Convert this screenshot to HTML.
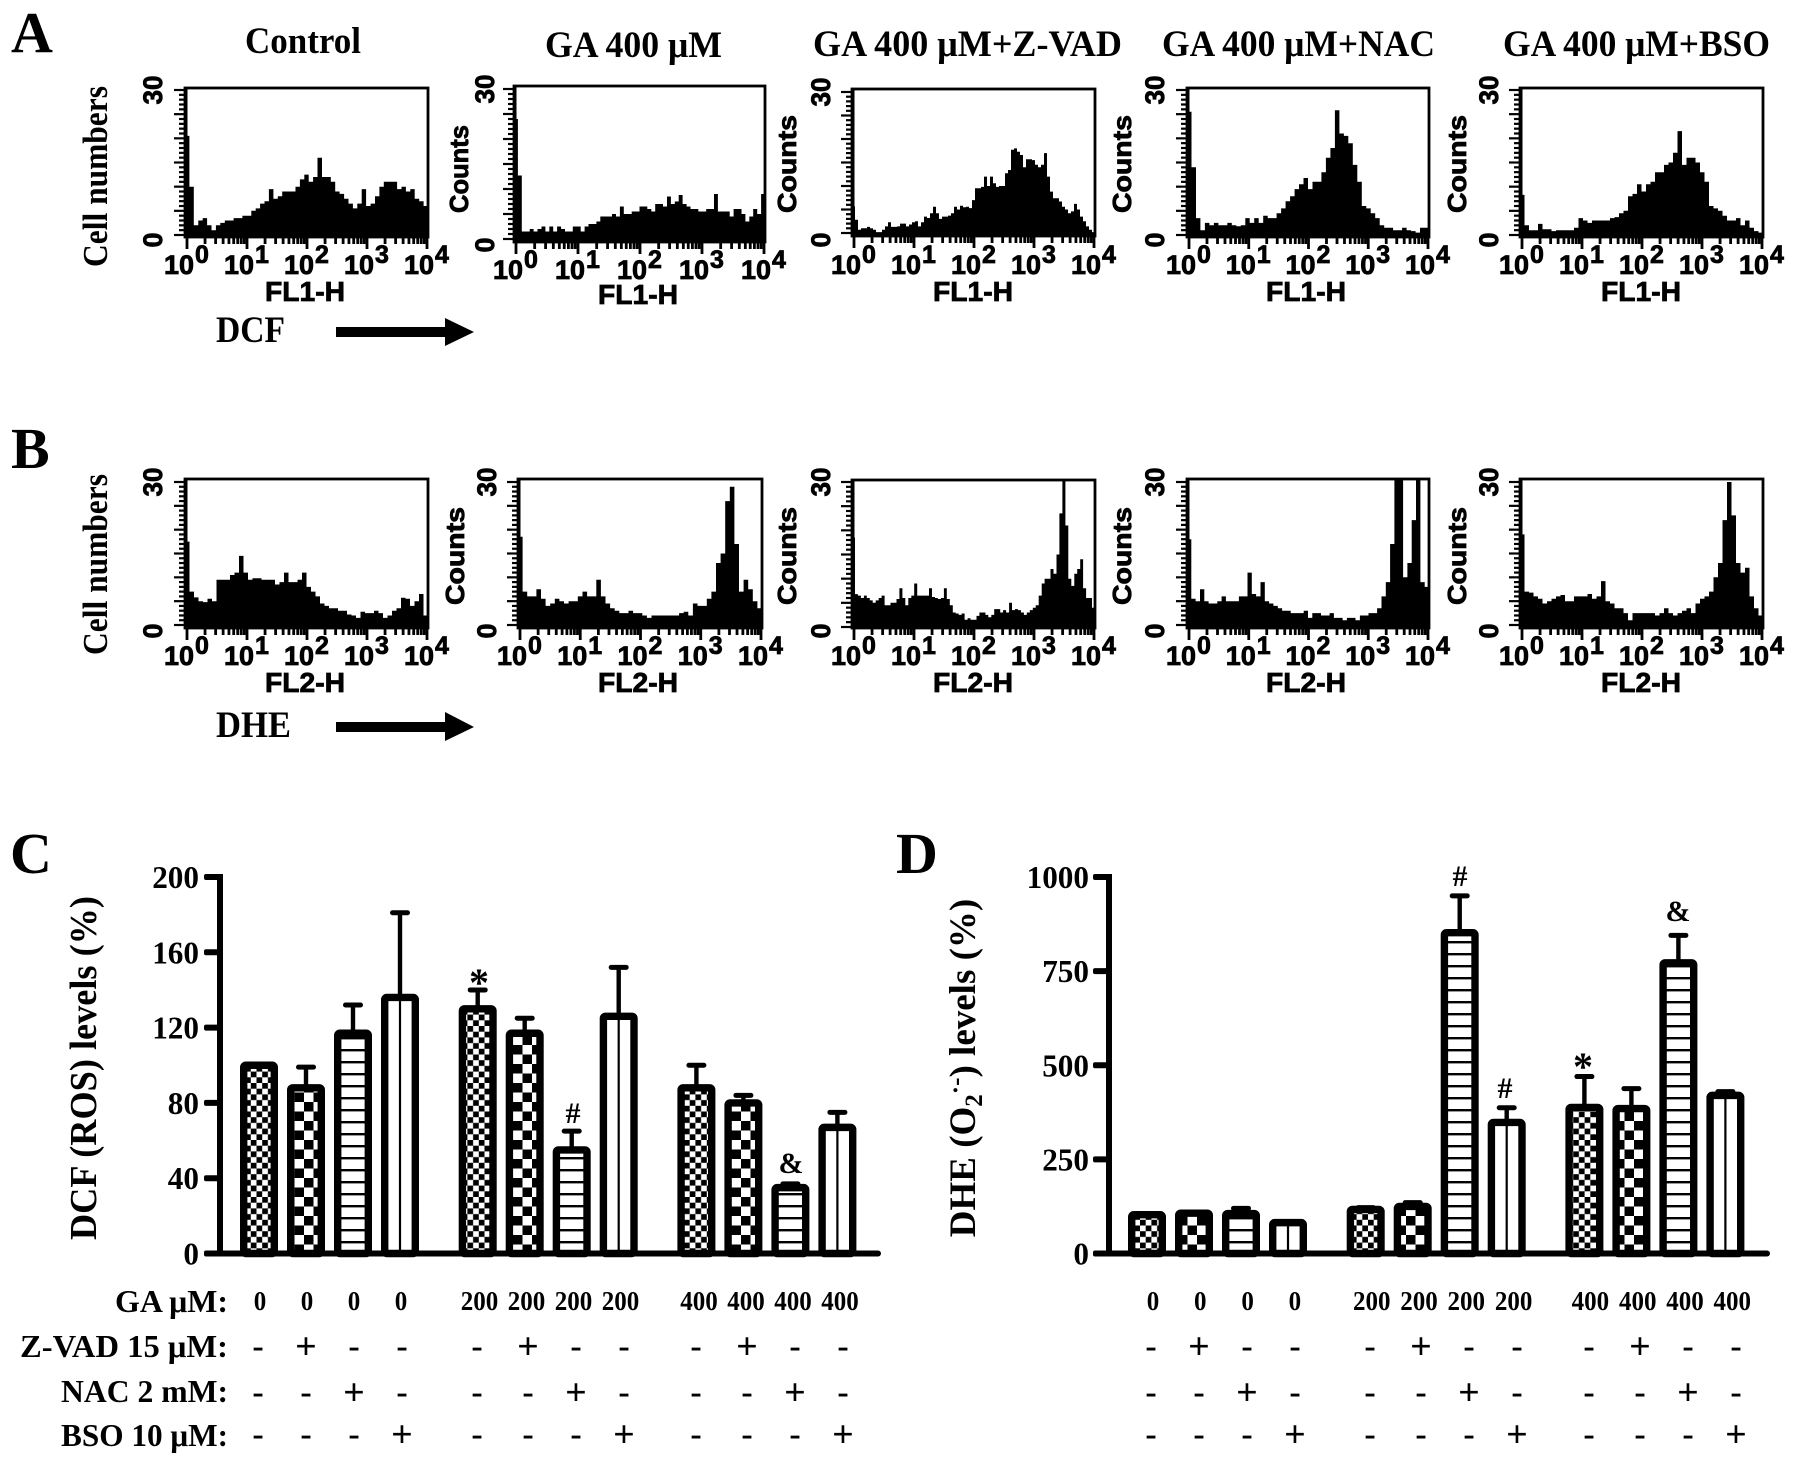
<!DOCTYPE html>
<html lang="en">
<head>
<meta charset="utf-8">
<title>GA ROS and superoxide flow cytometry figure</title>
<style>
html,body{margin:0;padding:0;background:#fff;}
svg{display:block;}
text{fill:#000;}
.serif{font-family:"Liberation Serif",serif;font-weight:bold;}
.sans{font-family:"Liberation Sans",sans-serif;font-weight:bold;}
.flow{stroke:#000;stroke-width:.8px;}
</style>
</head>
<body>
<svg id="figure" xmlns="http://www.w3.org/2000/svg" width="1795" height="1466" viewBox="0 0 1795 1466">
<defs>
<pattern id="fine" patternUnits="userSpaceOnUse" width="11.4" height="11.4"><rect width="11.4" height="11.4" fill="#fff"/><rect width="5.7" height="5.7" fill="#000"/><rect x="5.7" y="5.7" width="5.7" height="5.7" fill="#000"/></pattern>
<pattern id="coarse" patternUnits="userSpaceOnUse" width="19" height="19"><rect width="19" height="19" fill="#fff"/><rect width="9.5" height="9.5" fill="#000"/><rect x="9.5" y="9.5" width="9.5" height="9.5" fill="#000"/></pattern>
<pattern id="lines" patternUnits="userSpaceOnUse" width="12" height="12"><rect width="12" height="12" fill="#fff"/><rect y="5" width="12" height="2.4" fill="#000"/></pattern>
</defs>
<rect width="1795" height="1466" fill="#fff"/>

<text class="serif" x="11" y="52" font-size="58">A</text>
<text class="serif" x="11" y="468" font-size="58">B</text>
<text class="serif" x="10" y="873" font-size="58">C</text>
<text class="serif" x="896" y="873" font-size="58">D</text>

<text class="serif" x="245" y="53" font-size="37" textLength="116" lengthAdjust="spacingAndGlyphs">Control</text>
<text class="serif" x="545" y="57" font-size="37" textLength="177" lengthAdjust="spacingAndGlyphs">GA 400 μM</text>
<text class="serif" x="813" y="56" font-size="37" textLength="309" lengthAdjust="spacingAndGlyphs">GA 400 μM+Z-VAD</text>
<text class="serif" x="1162" y="56" font-size="37" textLength="273" lengthAdjust="spacingAndGlyphs">GA 400 μM+NAC</text>
<text class="serif" x="1503" y="56" font-size="37" textLength="267" lengthAdjust="spacingAndGlyphs">GA 400 μM+BSO</text>

<text class="serif" transform="translate(107,176.5) rotate(-90)" text-anchor="middle" font-size="35" textLength="181" lengthAdjust="spacingAndGlyphs">Cell numbers</text>
<text class="serif" transform="translate(107,564.5) rotate(-90)" text-anchor="middle" font-size="35" textLength="181" lengthAdjust="spacingAndGlyphs">Cell numbers</text>

<text class="serif" x="216" y="342" font-size="37" textLength="69" lengthAdjust="spacingAndGlyphs">DCF</text>
<polygon points="336,327 445,327 445,318 474,332 445,346 445,337 336,337"/>
<text class="serif" x="216" y="737" font-size="37" textLength="75" lengthAdjust="spacingAndGlyphs">DHE</text>
<polygon points="336,722 445,722 445,712 474,727 445,741 445,732 336,732"/>

<text class="serif" transform="translate(96,1068) rotate(-90)" text-anchor="middle" font-size="38" textLength="344" lengthAdjust="spacingAndGlyphs">DCF (ROS) levels (%)</text>
<text class="serif" transform="translate(975,1068) rotate(-90)" text-anchor="middle" font-size="37">DHE (O<tspan font-size="25" dy="7">2</tspan><tspan font-size="25" dy="-18">·-</tspan><tspan dy="11">) levels (%)</tspan></text>

<text class="serif" x="228" y="1312" text-anchor="end" font-size="32" textLength="113" lengthAdjust="spacingAndGlyphs">GA μM:</text>
<text class="serif" x="228" y="1357" text-anchor="end" font-size="32" textLength="208" lengthAdjust="spacingAndGlyphs">Z-VAD 15 μM:</text>
<text class="serif" x="228" y="1402" text-anchor="end" font-size="32" textLength="167" lengthAdjust="spacingAndGlyphs">NAC 2 mM:</text>
<text class="serif" x="228" y="1446" text-anchor="end" font-size="32" textLength="167" lengthAdjust="spacingAndGlyphs">BSO 10 μM:</text>

<text class="serif" x="479" y="996" text-anchor="middle" font-size="40">*</text>
<text class="serif" x="573" y="1123" text-anchor="middle" font-size="30">#</text>
<text class="serif" x="791" y="1173" text-anchor="middle" font-size="30">&amp;</text>
<text class="serif" x="1460" y="886" text-anchor="middle" font-size="30">#</text>
<text class="serif" x="1505" y="1098" text-anchor="middle" font-size="30">#</text>
<text class="serif" x="1583" y="1080" text-anchor="middle" font-size="40">*</text>
<text class="serif" x="1678" y="921" text-anchor="middle" font-size="30">&amp;</text>
</svg>

<script>
/* ===== Flow histograms: counts per channel bin ===== */
const a1Counts = [20.5,10,2,3,3.5,2,1,2,2.5,3,3,3.5,3.5,4,4,5,5.5,6.5,7,9.5,7.5,8,9,9,9,10,11.5,12.5,11,12,16,12,12,11,9,8.5,7.5,6.5,5.5,6.5,9.5,6,6.5,8,10,11,11,11,9.5,10,9,9.5,7.5,7,6];
const a2Counts = [24,12.7,1.5,1.5,2,1.5,2,2.5,1.5,2.5,1.5,2.5,2,1.5,1.5,2.5,2.5,1.5,2.5,3,3,3.5,4.5,4.5,4.5,5,4.5,6.5,5,5,5.5,5.5,6.5,6.5,6,5.5,7,7,6.5,8.5,7,7.5,8.8,7,6.5,6,6,5.5,5.5,6,6,9,5.5,5.5,5.5,4.5,6,6,5,3.5,4.5,6,5,9];
const a3Counts = [5.7,2.8,.7,1,1,1.3,1,.7,.2,.2,.7,1.4,2.3,1.3,1.3,1.4,2,2,1.4,1.8,2.3,2.5,1.4,2.3,3.5,3.2,4.2,5.6,4.2,3,3.5,3.5,3.7,4.2,5.6,5,5.8,5.5,5.6,5.3,7,9.5,9.5,9.8,12,10,12,10.6,9.8,10,10,12.7,13.4,17.7,18,17.3,16.6,14,15.7,15.7,15.5,14.5,14,14.5,17,12,8.8,7.4,7.4,6.7,5.6,5,4.2,4.6,6.2,5,3.5,2.5,1.4,.7,.2];
const a4Counts = [25.5,14,3.5,1,2.5,2,2.5,2,2,2.5,2,1.8,2,3.5,2.5,3.5,2.5,4,3.5,3.5,4.5,5.5,7,8,9.5,10.5,11.8,9.5,11,11,13,16,18,25.8,21,20.5,19,14.5,11,6,5.5,4.5,3.5,2,1.5,1.5,1,1,1.5,1,.8,.5,1.5,1.5];
const a5Counts = [8.3,2,1,1,2.3,1.2,1.2,.8,1,1,1,1,1.5,3.5,3,2.5,3,3,3,3,3.5,3.7,4.5,5,8,8.5,10.5,9,10.5,11,13,13,14.5,15,17,21.5,14.5,16,16,15,13,11,6,5.5,5,4,3,3,3.5,2,3,1.5,.8,.5];
const b1Counts = [17.5,7,5.8,5,4.8,5.5,5,9.5,9.5,9.5,10.5,11,14.5,11,9.5,9.8,9.8,9.5,9.5,9.5,8.5,9,11,9,9,9.5,11,8,7,6,4.5,4,3.5,3.5,3,3,2.2,2,1.5,2.8,2.5,2.5,3,2.5,1.5,2,3,3.5,5.7,5.5,4,5,6.5,2];
const b2Counts = [18.5,7,6,6,7.5,5.5,4,4.5,5.5,5,4.5,5,5,6,7,6,6,9.5,6,4.5,3.5,3,2.5,2.5,3,2.5,2.5,2,1.5,2,2,2,2,2,2,2.5,2.8,2,4.5,4,4,5.5,7,13,15,26,29,17,7,9.5,7.5,5,3.5];
const b3Counts = [18.5,6.8,6.5,6,6.5,6,5.5,5,5.5,6,6.5,4.5,4.5,5,5,5.8,8,6,4.5,6,6.5,9,6.5,6.5,6.5,6.5,8,6.2,6,5.8,6,8,5.8,4.5,3,2.8,2.5,2.8,1.5,1.8,1.5,1.5,2.3,3,3,2.5,2,2.5,3.7,3.7,3,3.5,3,5,3.5,3.7,3.5,3,2.5,3,3.5,4,4.5,6.5,9,10,10,12,11,15,23.5,31,21,10,8.5,11,12,14,8,6,6,4];
const b4Counts = [18,5.5,5,7.5,5,4.5,4.5,5,6,5,5,5,6,6,11,6.5,6,9,5,4.5,4,3.5,3,3,2.5,2.5,2.5,3,1.5,2.5,2.5,2,2,2.5,1.5,1.5,1,1.5,1.5,1,2,2,2.5,2.5,3.5,6,9,17,31,31,10,13,22,32,9,8];
const b5Counts = [19,7,6.8,6,5.5,4.5,5,5.5,6,6.3,5,5,6,6,6,6.5,5.5,6,9.2,5,4.5,3.5,3.5,2.5,1,2.5,2.5,2.5,2.5,2.5,2,2.5,3.5,2.5,2,2.5,3,3.5,2.5,4.5,5.5,6,7,10,13,22,30,23,13,11,12,6,3.5,2];
const flowYTicks = ['30','0'];
const flowXExponents = ['0','1','2','3','4'];

/* ===== Bar charts ===== */
const chartCValues = [100,88,117,136, 130,117,55,126, 88,80,35,67];
const chartCErrorTops = [100,99,132,181, 140,125,65,152, 100,84,37,75];
const chartCTickLabels = ['0','40','80','120','160','200'];
const chartDValues = [103,107,106,82, 117,125,852,348, 388,385,772,420];
const chartDErrorTops = [103,107,120,82, 122,135,950,387, 470,438,845,430];
const chartDTickLabels = ['0','250','500','750','1000'];
const gaDoses = ['0','0','0','0','200','200','200','200','400','400','400','400'];
const zvadSigns = ['-','+','-','-','-','+','-','-','-','+','-','-'];
const nacSigns = ['-','-','+','-','-','-','+','-','-','-','+','-'];
const bsoSigns = ['-','-','-','+','-','-','-','+','-','-','-','+'];
const barFills = ['fine','coarse','lines','vertical'];

const NS = 'http://www.w3.org/2000/svg';
const svg = document.getElementById('figure');

function shape(tag, name, attrs, parent) {
  const el = document.createElementNS(NS, tag);
  for (const k in attrs) el.setAttribute(k, attrs[k]);
  
  
  (parent || svg).appendChild(el);
  return el;
}
function label(name, str, attrs, parent) {
  const el = shape('text', name, attrs, parent);
  el.textContent = str;
  return el;
}

/* Flow histogram panel */
function flowPanel(id, counts, L, R, T, B, y30, y0, labelBase, titleBase, titleX, zeroCx, tickLabelX, channel, countsBox) {
  const g = shape('g', 'histogram-' + id, {});
  const yOf = v => Math.max(T, y0 - (v / 30) * (y0 - y30));
  const binW = (R - L) / counts.length;
  let d = 'M' + L + ' ' + B;
  counts.forEach((v, i) => {
    const x1 = L + i * binW, x2 = x1 + binW, y = v <= 0 ? B : yOf(v);
    d += 'L' + x1.toFixed(1) + ' ' + y.toFixed(1) + 'L' + x2.toFixed(1) + ' ' + y.toFixed(1);
  });
  d += 'L' + R + ' ' + B + 'Z';
  shape('path', 'histogram-area-' + id, {d: d, fill: '#000'}, g);
  shape('rect', 'plot-frame-' + id, {x: L, y: T, width: R - L, height: B - T, fill: 'none', stroke: '#000', 'stroke-width': 2.8}, g);
  shape('rect', 'y-axis-line-' + id, {x: L - 1, y: T, width: 3.5, height: B - T + 1, fill: '#000'}, g);
  for (let i = 0; i <= 30; i++) {
    const yy = y0 - (i / 30) * (y0 - y30), major = i % 5 === 0;
    shape('rect', 'y-tick-' + id, {x: L - (major ? 11 : 6), y: yy - 1.1, width: major ? 11 : 6, height: 2.2, fill: '#000'}, g);
  }
  const dec = (R - L - 3) / 4;
  for (let i = 0; i < 5; i++) {
    const tx = L + 2 + i * dec;
    shape('rect', 'x-tick-major-' + id, {x: tx - 1.4, y: B, width: 2.8, height: 12, fill: '#000'}, g);
    if (i < 4) for (let m = 2; m < 10; m++) {
      const mx = tx + Math.log10(m) * dec;
      shape('rect', 'x-tick-minor-' + id, {x: mx - 1.4, y: B, width: 2.8, height: 7, fill: '#000'}, g);
    }
    const t = label('x-tick-label-' + id, '10', {x: tx - 23, y: labelBase, 'font-size': 27, class: 'sans flow'}, g);
    const sup = document.createElementNS(NS, 'tspan');
    sup.setAttribute('dy', -11);
    sup.setAttribute('dx', 1);
    sup.setAttribute('font-size', 25);
    sup.textContent = flowXExponents[i];
    t.appendChild(sup);
  }
  label('x-axis-title-' + id, channel, {x: titleX, y: titleBase, 'font-size': 28, class: 'sans flow', textLength: 80, lengthAdjust: 'spacingAndGlyphs'}, g);
  label('y-tick-label-30-' + id, flowYTicks[0], {transform: 'translate(' + tickLabelX + ',' + y30 + ') rotate(-90)', 'text-anchor': 'middle', 'font-size': 27, class: 'sans flow', textLength: 29, lengthAdjust: 'spacingAndGlyphs'}, g);
  label('y-tick-label-0-' + id, flowYTicks[1], {transform: 'translate(' + tickLabelX + ',' + zeroCx + ') rotate(-90)', 'text-anchor': 'middle', 'font-size': 27, class: 'sans flow'}, g);
  if (countsBox) {
    label('y-axis-title-' + id, 'Counts', {transform: 'translate(' + countsBox.x + ',' + countsBox.y + ') rotate(-90)', 'text-anchor': 'middle', 'font-size': 26, class: 'sans flow', textLength: countsBox.len, lengthAdjust: 'spacingAndGlyphs'}, g);
  }
}

flowPanel('a1', a1Counts, 185, 428, 88, 237, 90, 235, 274, 301, 265, 240, 162, 'FL1-H', null);
flowPanel('a2', a2Counts, 514, 765, 86, 242, 89, 239, 279, 304, 598, 245, 494, 'FL1-H', {x: 468, y: 169, len: 88});
flowPanel('a3', a3Counts, 852, 1095, 89, 236, 92, 233, 274, 301, 933, 240, 830, 'FL1-H', {x: 796, y: 164, len: 98});
flowPanel('a4', a4Counts, 1187, 1429, 88, 237, 90, 235, 274, 301, 1266, 240, 1164, 'FL1-H', {x: 1131, y: 164, len: 98});
flowPanel('a5', a5Counts, 1520, 1763, 88, 237, 90, 235, 274, 301, 1601, 240, 1498, 'FL1-H', {x: 1466, y: 164, len: 98});

flowPanel('b1', b1Counts, 185, 428, 479, 628, 482, 625, 665, 692, 265, 631, 162, 'FL2-H', null);
flowPanel('b2', b2Counts, 518, 762, 479, 628, 482, 625, 665, 692, 598, 631, 496, 'FL2-H', {x: 464, y: 556, len: 98});
flowPanel('b3', b3Counts, 852, 1095, 480, 628, 482, 627, 665, 692, 933, 631, 830, 'FL2-H', {x: 796, y: 556, len: 98});
flowPanel('b4', b4Counts, 1187, 1429, 479, 628, 482, 625, 665, 692, 1266, 631, 1164, 'FL2-H', {x: 1131, y: 556, len: 98});
flowPanel('b5', b5Counts, 1520, 1763, 479, 628, 482, 625, 665, 692, 1601, 631, 1498, 'FL2-H', {x: 1466, y: 556, len: 98});

/* Bar chart */
const yZero = 1253.5, yPlot = 376.5;
function barChart(id, values, errTops, ticks, yMax, axisX, xEnd, barX0, colX0, colPitch, colStep, signX0, fontTickRight) {
  const g = shape('g', 'bar-chart-' + id, {});
  const y = v => yZero - (v / yMax) * yPlot;
  const barPitch = 47, groupStep = 218.7, stroke = 7.4, outer = 38;
  const bx = i => barX0 + Math.floor(i / 4) * groupStep + (i % 4) * barPitch;
  values.forEach((v, i) => {
    const cx = bx(i);
    if (errTops[i] > v) {
      shape('rect', 'error-stem-' + id + '-' + i, {x: cx - 2.2, y: y(errTops[i]), width: 4.4, height: y(v) - y(errTops[i]), fill: '#000'}, g);
      shape('rect', 'error-cap-' + id + '-' + i, {x: cx - 10, y: y(errTops[i]) - 2.5, width: 20, height: 5, rx: 2.5, fill: '#000'}, g);
    }
    const kind = barFills[i % 4];
    const top = y(v);
    shape('rect', 'bar-' + id + '-' + i, {x: cx - outer / 2 + stroke / 2, y: top, width: outer - stroke, height: yZero - top, rx: 2, fill: kind === 'vertical' ? '#fff' : 'url(#' + kind + ')', stroke: '#000', 'stroke-width': stroke}, g);
    if (kind === 'vertical') {
      shape('rect', 'bar-stripe-' + id + '-' + i, {x: cx - 1.1, y: top, width: 2.2, height: yZero - top, fill: '#000'}, g);
    }
  });
  shape('rect', 'y-axis-' + id, {x: axisX - 3, y: y(yMax) - 3, width: 6, height: yPlot + 6, fill: '#000'}, g);
  shape('rect', 'x-axis-' + id, {x: axisX - 16, y: yZero - 3, width: xEnd - axisX + 16, height: 6, rx: 3, fill: '#000'}, g);
  ticks.forEach(t => {
    const v = parseFloat(t);
    shape('rect', 'y-tick-' + id, {x: axisX - 16, y: y(v) - 3, width: 16, height: 6, rx: 2, fill: '#000'}, g);
    label('y-tick-label-' + id, t, {x: fontTickRight, y: y(v) + 11, 'text-anchor': 'end', 'font-size': 32, class: 'serif', textLength: t.length * 15.6, lengthAdjust: 'spacingAndGlyphs'}, g);
  });
  const colX = i => colX0 + Math.floor(i / 4) * colStep + (i % 4) * colPitch;
  const signX = i => signX0 + Math.floor(i / 4) * 219 + (i % 4) * 48 + (i > 3 && i % 4 > 0 ? 3 : 0);
  gaDoses.forEach((d, i) => {
    label('ga-dose-' + id, d, {x: colX(i), y: 1310, 'text-anchor': 'middle', 'font-size': 27, class: 'serif', textLength: d.length * 12.5, lengthAdjust: 'spacingAndGlyphs'}, g);
  });
  [[zvadSigns, 'z-vad', 1349], [nacSigns, 'nac', 1395], [bsoSigns, 'bso', 1437]].forEach(row => {
    row[0].forEach((s, i) => {
      const plus = s === '+';
      label('sign-' + row[1] + '-' + id, s, {x: signX(i), y: row[2] + (plus ? 10 : 8), 'text-anchor': 'middle', 'font-size': plus ? 38 : 34, class: 'serif'}, g);
    });
  });
}
barChart('c', chartCValues, chartCErrorTops, chartCTickLabels, 200, 220, 881, 259, 260, 47, 219.5, 258, 199);
barChart('d', chartDValues, chartDErrorTops, chartDTickLabels, 1000, 1109, 1770, 1147, 1153, 47.3, 218.7, 1151, 1089);
</script>
</body>
</html>
